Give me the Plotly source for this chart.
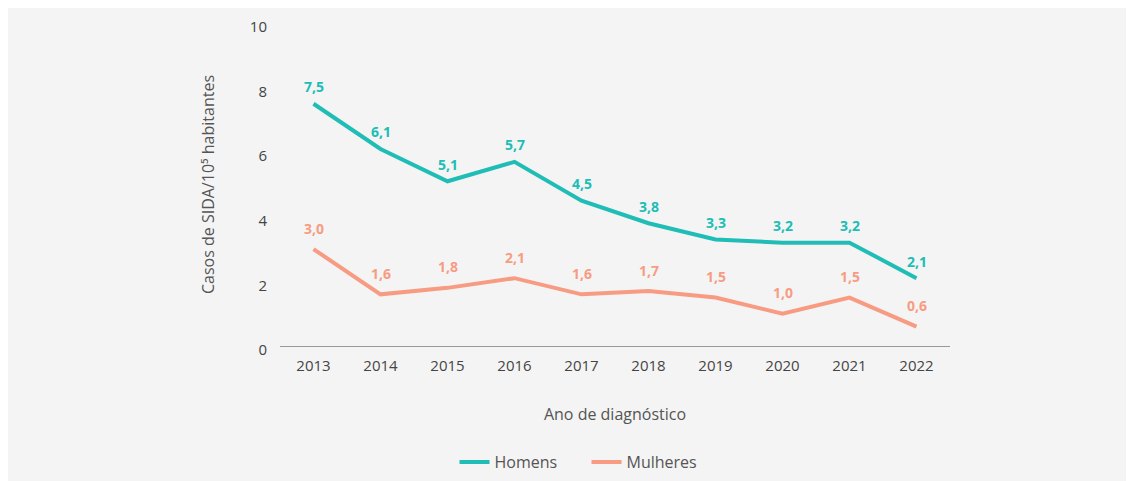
import plotly.graph_objects as go

years = ["2013", "2014", "2015", "2016", "2017", "2018", "2019", "2020", "2021", "2022"]
homens = [7.5, 6.1, 5.1, 5.7, 4.5, 3.8, 3.3, 3.2, 3.2, 2.1]
mulheres = [3.0, 1.6, 1.8, 2.1, 1.6, 1.7, 1.5, 1.0, 1.5, 0.6]
y_ticks = [0, 2, 4, 6, 8, 10]

TEAL = "#20bdb6"
SALMON = "#f79c82"
FONT = "Open Sans"

def fmt(v):
    return f"{v:.1f}".replace(".", ",")

fig = go.Figure()
for name, vals, color, shift in [("Homens", homens, TEAL, 17), ("Mulheres", mulheres, SALMON, 21)]:
    fig.add_trace(go.Scatter(
        x=years, y=vals, name=name, mode="lines",
        line=dict(color=color, width=4),
        hoverinfo="skip",
    ))
    for i, yv in enumerate(vals):
        fig.add_annotation(
            x=i, y=yv, text=f"<b>{fmt(yv)}</b>", showarrow=False,
            yshift=shift, font=dict(family=FONT, size=14, color=color),
        )

fig.update_layout(
    width=1134, height=481,
    margin=dict(l=272, r=192, t=15, b=142),
    paper_bgcolor="#f4f4f4",
    plot_bgcolor="#f4f4f4",
    font=dict(family=FONT, size=15, color="#444"),
    showlegend=True,
    legend=dict(orientation="h", x=0.4575, xanchor="center", y=-0.355, yanchor="middle",
                font=dict(family=FONT, size=16, color="#555"),
                entrywidth=87, bgcolor="rgba(0,0,0,0)", traceorder="normal"),
    xaxis=dict(
        type="category", range=[-0.5, 9.5], automargin=False,
        showline=True, linecolor="#999", linewidth=1,
        showgrid=False, zeroline=False, ticks="",
        ticklabelstandoff=6,
        tickfont=dict(family=FONT, size=15, color="#444"),
        title=dict(text="Ano de diagnóstico", font=dict(family=FONT, size=16, color="#555"), standoff=34),
    ),
    yaxis=dict(
        range=[0, 10], tickvals=y_ticks, ticktext=[str(t) for t in y_ticks],
        automargin=False,
        showline=False, showgrid=False, zeroline=False, ticks="",
        ticklabelstandoff=12, ticklabelshift=4,
        tickfont=dict(family=FONT, size=15, color="#444"),
        title=dict(text="Casos de SIDA/10⁵ habitantes", font=dict(family=FONT, size=16, color="#555"), standoff=31),
    ),
)

fig.write_html("out.html")
